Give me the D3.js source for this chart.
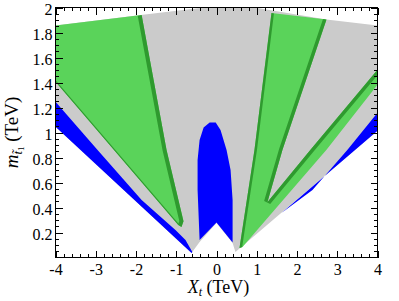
<!DOCTYPE html>
<html><head><meta charset="utf-8">
<script src="https://cdn.jsdelivr.net/npm/d3@7"></script>
<style>body{margin:0;background:#fff}svg{display:block}</style>
</head><body><svg id="c" width="399" height="301"></svg>
<script>
// ---- data (X_t in TeV, m_stop1 in TeV) ----
const grayRegion = [[-4,1.856],[-1.99,1.936],[-0.30,2.0],[0.94,2.0],[2.73,1.904],[4,1.856],[4,1.014],[0.47,0.044],[0.40,0.116],[0,0.277],[-0.42,0.124],[-0.62,0.036],[-4,1.046]];
const blueLeft = [[-4,1.246],[-4,1.046],[-0.62,0.036],[-0.60,0.044],[-0.77,0.14],[-1.02,0.22],[-1.86,0.46],[-2.96,0.862]];
const blueRight = [[4,1.158],[4,1.014],[1.615,0.357],[2.385,0.541],[3.255,0.862]];
const blueLobe = [[-0.42,0.14],[-0.47,0.54],[-0.47,0.78],[-0.42,0.94],[-0.32,1.04],[-0.17,1.08],[-0.02,1.08],[0.10,1.02],[0.25,0.86],[0.35,0.70],[0.40,0.46],[0.40,0.12],[0,0.28]];
const greenLeft = [[-4,1.856],[-1.86,1.94],[-1.242,0.862],[-0.82,0.29],[-0.87,0.245],[-0.95,0.26],[-4,1.407]];
const greenRight = [[0.571,0.076],[0.944,0.862],[1.366,1.956],[2.733,1.904],[1.640,0.862],[1.267,0.445],[2.335,0.862],[4,1.503],[4,1.383],[2.733,0.862],[0.646,0.084]];
const darkLeftEdge = [[-1.86,1.94],[-1.242,0.862],[-0.82,0.29],[-0.87,0.245],[-0.95,0.26]];
const darkLeftLower = [[-0.95,0.26],[-4,1.407]];
const darkRightOuter = [[0.571,0.076],[0.944,0.862],[1.366,1.956]];
const darkRightInner = [[2.733,1.904],[1.640,0.862],[1.267,0.445],[2.335,0.862],[4,1.503]];

const xTicks = [-4,-3,-2,-1,0,1,2,3,4];
const xTickLabels = ["-4","-3","-2","-1","0","1","2","3","4"];
const yTicks = [0.2,0.4,0.6,0.8,1,1.2,1.4,1.6,1.8,2];
const yTickLabels = ["0.2","0.4","0.6","0.8","1","1.2","1.4","1.6","1.8","2"];

const colors = {gray:"#cbcbcb", green:"#5ad35a", dark:"#2f9a2f", blue:"#0000ff"};

// ---- chart ----
const L=55.5, R=377.5, T=7.5, B=257.5;
const svg = d3.select("#c");
const x = d3.scaleLinear().domain([-4,4]).range([L,R]);
const y = d3.scaleLinear().domain([0,2]).range([B,T]);
const line = d3.line().x(d=>x(d[0])).y(d=>y(d[1]));
const poly = pts => line(pts) + "Z";

const defs = svg.append("defs");
defs.append("clipPath").attr("id","plot").append("rect").attr("x",L).attr("y",T).attr("width",R-L).attr("height",B-T);
defs.append("clipPath").attr("id","gl").append("path").attr("d",poly(greenLeft));
defs.append("clipPath").attr("id","gr").append("path").attr("d",poly(greenRight));

const g = svg.append("g").attr("clip-path","url(#plot)");
g.append("path").attr("d",poly(grayRegion)).attr("fill",colors.gray);
[blueLeft, blueRight, blueLobe].forEach(p=>g.append("path").attr("d",poly(p)).attr("fill",colors.blue));
g.append("path").attr("d",poly(greenLeft)).attr("fill",colors.green);
g.append("path").attr("d",poly(greenRight)).attr("fill",colors.green);
const gl = g.append("g").attr("clip-path","url(#gl)");
gl.append("path").attr("d",line(darkLeftEdge)).attr("fill","none").attr("stroke",colors.dark).attr("stroke-width",8);
gl.append("path").attr("d",line(darkLeftLower)).attr("fill","none").attr("stroke",colors.dark).attr("stroke-width",2);
const gr = g.append("g").attr("clip-path","url(#gr)");
gr.append("path").attr("d",line(darkRightOuter)).attr("fill","none").attr("stroke",colors.dark).attr("stroke-width",5);
gr.append("path").attr("d",line(darkRightInner)).attr("fill","none").attr("stroke",colors.dark).attr("stroke-width",7);

// ---- axes ----
const font = "'Liberation Serif','DejaVu Serif',serif";
const xMinor = x.ticks(40).filter(v=>!xTicks.includes(v));
const yMinor = y.ticks(40).filter(v=>v>0 && v<2 && !yTicks.some(t=>Math.abs(t-v)<1e-9));

function styleAxis(sel){ sel.select(".domain").remove(); sel.selectAll("line").attr("stroke","#000").attr("stroke-width",1).attr("shape-rendering","crispEdges"); sel.selectAll("text").attr("font-family",font).attr("font-size",16).attr("fill","#000"); }

svg.append("g").attr("transform",`translate(0,${B})`).call(d3.axisBottom(x).tickValues(xTicks).tickSize(-7).tickPadding(6).tickFormat((d,i)=>xTickLabels[i])).call(styleAxis);
svg.append("g").attr("transform",`translate(0,${B})`).call(d3.axisBottom(x).tickValues(xMinor).tickSize(-3.5).tickFormat("")).call(styleAxis);
svg.append("g").attr("transform",`translate(0,${T})`).call(d3.axisTop(x).tickValues(xTicks).tickSize(-7).tickFormat("")).call(styleAxis);
svg.append("g").attr("transform",`translate(0,${T})`).call(d3.axisTop(x).tickValues(xMinor).tickSize(-3.5).tickFormat("")).call(styleAxis);
const yAx = svg.append("g").attr("transform",`translate(${L},0)`).call(d3.axisLeft(y).tickValues(yTicks).tickSize(-7).tickPadding(3).tickFormat((d,i)=>yTickLabels[i])).call(styleAxis);
yAx.selectAll("text").attr("dy","0.45em");
svg.append("g").attr("transform",`translate(${L},0)`).call(d3.axisLeft(y).tickValues(yMinor).tickSize(-3.5).tickFormat("")).call(styleAxis);
svg.append("g").attr("transform",`translate(${R},0)`).call(d3.axisRight(y).tickValues(yTicks).tickSize(-7).tickFormat("")).call(styleAxis);
svg.append("g").attr("transform",`translate(${R},0)`).call(d3.axisRight(y).tickValues(yMinor).tickSize(-3.5).tickFormat("")).call(styleAxis);

svg.append("rect").attr("x",L).attr("y",T).attr("width",R-L).attr("height",B-T).attr("fill","none").attr("stroke","#000").attr("stroke-width",1).attr("shape-rendering","crispEdges");

// titles
const xt = svg.append("text").attr("x",(L+R)/2+2).attr("y",293).attr("text-anchor","middle").attr("font-family",font).attr("font-size",18);
xt.append("tspan").attr("font-style","italic").text("X");
xt.append("tspan").attr("font-style","italic").attr("font-size",12).attr("dy",3).text("t");
xt.append("tspan").attr("dy",-3).text(" (TeV)");

const yt = svg.append("text").attr("transform",`translate(18,${(T+B)/2}) rotate(-90)`).attr("text-anchor","middle").attr("font-family",font).attr("font-size",19);
yt.append("tspan").attr("font-style","italic").text("m");
yt.append("tspan").attr("font-style","italic").attr("font-size",13).attr("dy",4).text("t\u0303");
yt.append("tspan").attr("font-size",9).attr("dy",2).text("1");
yt.append("tspan").attr("dy",-6).text(" (TeV)");
</script></body></html>
